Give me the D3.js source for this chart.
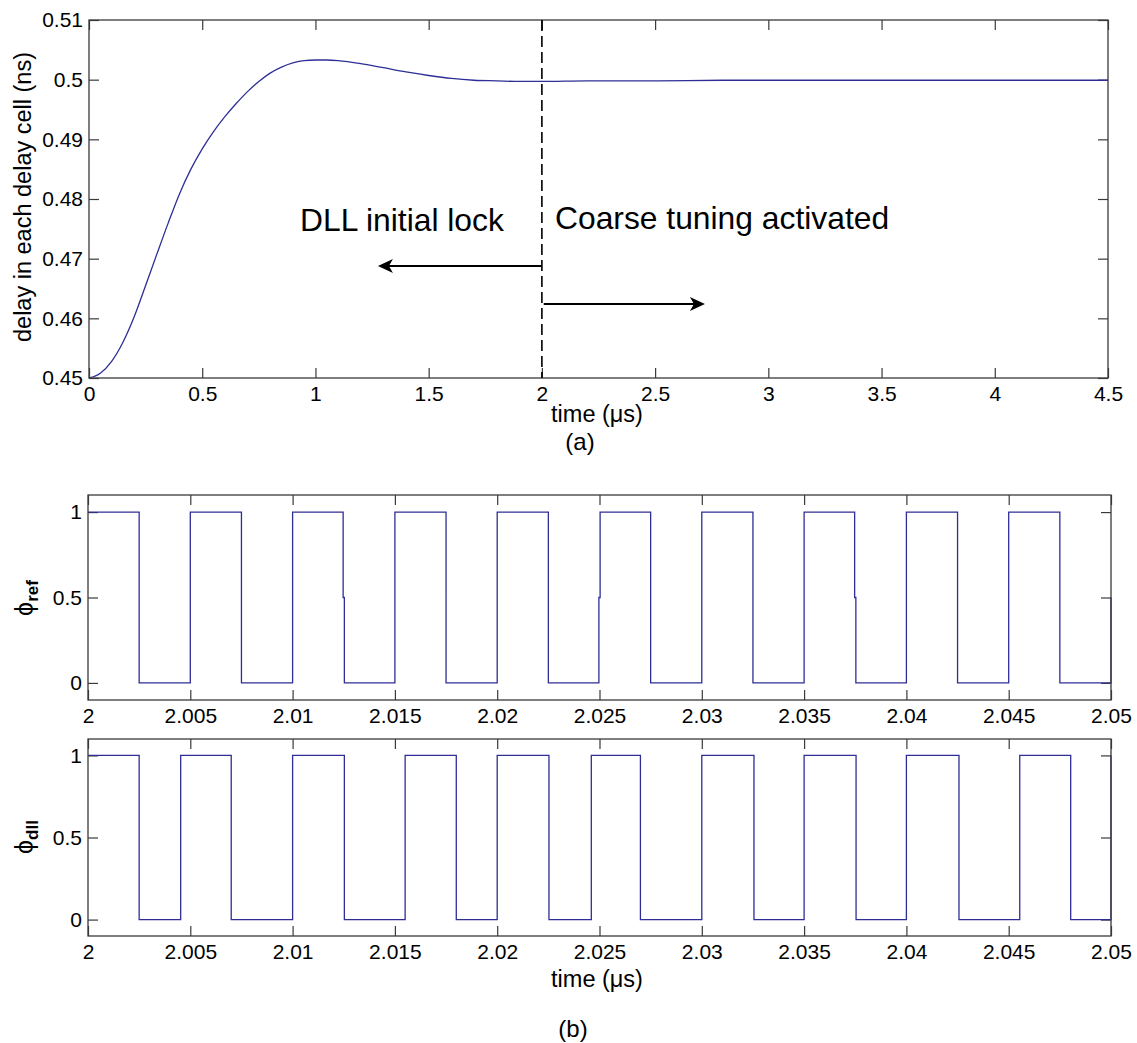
<!DOCTYPE html>
<html>
<head>
<meta charset="utf-8">
<script src="https://cdn.jsdelivr.net/npm/d3@7"></script>
<style>
  html, body { margin: 0; padding: 0; background: #fff; }
  svg { display: block; font-family: "Liberation Sans", Arial, Helvetica, sans-serif; }
</style>
</head>
<body>
<svg id="fig" width="1137" height="1043"></svg>
<script>
// ---- (a) delay of one delay cell during lock-in (time in us, delay in ns)
const lockTime = [0, 0.05, 0.1, 0.15, 0.2, 0.25, 0.3, 0.35, 0.4, 0.45, 0.5, 0.55, 0.6, 0.65,
  0.7, 0.75, 0.8, 0.85, 0.9, 0.95, 1.0, 1.05, 1.1, 1.2, 1.3, 1.4, 1.5, 1.6, 1.7, 1.8, 1.9,
  2.0, 2.2, 2.5, 2.8, 3.0, 3.5, 4.0, 4.5];
const lockDelay = [0.4500, 0.4508, 0.4528, 0.4560, 0.4603, 0.4655, 0.4708, 0.4760, 0.4809,
  0.4850, 0.4884, 0.4913, 0.4938, 0.4960, 0.4980, 0.4997, 0.5011, 0.5021, 0.5028, 0.5032,
  0.5033, 0.5033, 0.5032, 0.5027, 0.5020, 0.5013, 0.5007, 0.5002, 0.4999, 0.4998, 0.4997,
  0.4997, 0.4998, 0.4998, 0.4999, 0.4999, 0.4999, 0.4999, 0.4999];
const coarseStart = 2;              // coarse tuning switched on here
const topXTicks = [0, 0.5, 1, 1.5, 2, 2.5, 3, 3.5, 4, 4.5];
const topXLabels = ["0", "0.5", "1", "1.5", "2", "2.5", "3", "3.5", "4", "4.5"];
const topYTicks = [0.45, 0.46, 0.47, 0.48, 0.49, 0.5, 0.51];
const topYLabels = ["0.45", "0.46", "0.47", "0.48", "0.49", "0.5", "0.51"];

// ---- (b) reference clock and DLL output, sample points (time in us, level)
const refT = [2.0000, 2.0025, 2.0050, 2.0075, 2.0100, 2.01247, 2.01253, 2.0150, 2.0175,
  2.0200, 2.0225, 2.02497, 2.02503, 2.0275, 2.0300, 2.0325, 2.0350, 2.03747, 2.03753,
  2.0400, 2.0425, 2.0450, 2.0475, 2.0500];
const refV = [1, 0, 1, 0, 1, 0.5, 0, 1, 0, 1, 0, 0.5, 1, 0, 1, 0, 1, 0.5, 0, 1, 0, 1, 0, 0.5];
const dllT = [2.0000, 2.0025, 2.00453, 2.0070, 2.0100, 2.01253, 2.0155, 2.0180, 2.0200,
  2.02253, 2.0246, 2.0270, 2.0300, 2.03255, 2.0350, 2.03754, 2.0400, 2.04257, 2.04554,
  2.04803, 2.0500];
const dllV = [1, 0, 1, 0, 1, 0, 1, 0, 1, 0, 1, 0, 1, 0, 1, 0, 1, 0, 1, 0, 1];
const clkXTicks = [2, 2.005, 2.01, 2.015, 2.02, 2.025, 2.03, 2.035, 2.04, 2.045, 2.05];
const clkXLabels = ["2", "2.005", "2.01", "2.015", "2.02", "2.025", "2.03", "2.035", "2.04", "2.045", "2.05"];
const clkYTicks = [0, 0.5, 1];
const clkYLabels = ["0", "0.5", "1"];

const svg = d3.select("#fig");
const LINE = "#2e2e96";
const AXIS = "#3a3a3a";
const TICK_FONT = 21;
const LABEL_FONT = 23.5;

function panel(box, xDomain, yDomain, xTicks, xLabels, yTicks, yLabels) {
  const x = d3.scaleLinear().domain(xDomain).range([box.x0, box.x1]);
  const y = d3.scaleLinear().domain(yDomain).range([box.y1, box.y0]);
  const g = svg.append("g");
  const fmt = (arr, labels) => d => labels[arr.indexOf(d)];

  const axes = [
    [d3.axisBottom(x).tickValues(xTicks).tickFormat(fmt(xTicks, xLabels)).tickPadding(8), `translate(0,${box.y1})`],
    [d3.axisTop(x).tickValues(xTicks).tickFormat(""), `translate(0,${box.y0})`],
    [d3.axisLeft(y).tickValues(yTicks).tickFormat(fmt(yTicks, yLabels)).tickPadding(6), `translate(${box.x0},0)`],
    [d3.axisRight(y).tickValues(yTicks).tickFormat(""), `translate(${box.x1},0)`]
  ];
  axes.forEach(([ax, tr]) => {
    const a = g.append("g").attr("transform", tr)
      .call(ax.tickSizeInner(-10).tickSizeOuter(0));
    a.select(".domain").remove();
    a.selectAll("line").attr("stroke", AXIS).attr("stroke-width", 1.2);
    a.selectAll("text").attr("fill", "#000").attr("font-size", TICK_FONT)
      .attr("font-family", "Liberation Sans, Arial, sans-serif");
  });
  g.append("rect")
    .attr("x", box.x0).attr("y", box.y0)
    .attr("width", box.x1 - box.x0).attr("height", box.y1 - box.y0)
    .attr("fill", "none").attr("stroke", AXIS).attr("stroke-width", 1.3);
  return { x, y, g };
}

// ---------------- panel (a)
const A = panel({ x0: 89, x1: 1108, y0: 20, y1: 378 }, [0, 4.5], [0.45, 0.51],
  topXTicks, topXLabels, topYTicks, topYLabels);

const lockPts = lockTime.map((t, i) => [t, lockDelay[i]]);
A.g.insert("path", "rect")
  .datum(lockPts)
  .attr("fill", "none").attr("stroke", LINE).attr("stroke-width", 1.3)
  .attr("d", d3.line().x(d => A.x(d[0])).y(d => A.y(d[1])).curve(d3.curveMonotoneX));

A.g.append("line")
  .attr("x1", A.x(coarseStart)).attr("x2", A.x(coarseStart))
  .attr("y1", A.y(0.51)).attr("y2", A.y(0.45))
  .attr("stroke", "#000").attr("stroke-width", 1.6)
  .attr("stroke-dasharray", "11,5");

// arrow annotations
function arrow(xFrom, xTo, yv) {
  const y = A.y(yv);
  const x1 = A.x(xFrom), x2 = A.x(xTo);
  const dir = x2 > x1 ? 1 : -1;
  A.g.append("line").attr("x1", x1).attr("x2", x2 - dir * 8).attr("y1", y).attr("y2", y)
    .attr("stroke", "#000").attr("stroke-width", 2.2);
  A.g.append("path")
    .attr("d", "M0,0 L-15,-7 L-11,0 L-15,7 Z")
    .attr("transform", `translate(${x2},${y}) scale(${dir},1)`)
    .attr("fill", "#000");
}
arrow(coarseStart, 1.276, 0.46877);
arrow(2.008, 2.72, 0.4624);

A.g.append("text").attr("x", A.x(0.932)).attr("y", A.y(0.4746))
  .attr("font-size", 31.8).attr("fill", "#000").text("DLL initial lock");
A.g.append("text").attr("x", A.x(2.058)).attr("y", A.y(0.4750))
  .attr("font-size", 31.8).attr("fill", "#000").text("Coarse tuning activated");

svg.append("text")
  .attr("transform", "translate(31,197) rotate(-90)")
  .attr("text-anchor", "middle").attr("font-size", LABEL_FONT).attr("fill", "#000")
  .text("delay in each delay cell (ns)");
svg.append("text").attr("x", 597).attr("y", 422).attr("text-anchor", "middle")
  .attr("font-size", LABEL_FONT).attr("fill", "#000").text("time (\u03BCs)");
svg.append("text").attr("x", 580).attr("y", 450).attr("text-anchor", "middle")
  .attr("font-size", 24).attr("fill", "#000").text("(a)");

// ---------------- panel (b)
function clockPanel(box, ts, vs, sub, labelY) {
  const P = panel(box, [2, 2.05], [-0.1, 1.1], clkXTicks, clkXLabels, clkYTicks, clkYLabels);
  const pts = ts.map((t, i) => [t, vs[i]]);
  P.g.insert("path", "rect")
    .datum(pts)
    .attr("fill", "none").attr("stroke", LINE).attr("stroke-width", 1.3)
    .attr("d", d3.line().x(d => P.x(d[0])).y(d => P.y(d[1])).curve(d3.curveStepAfter));
  const t = svg.append("text")
    .attr("transform", `translate(33,${labelY}) rotate(-90)`)
    .attr("text-anchor", "middle").attr("fill", "#000")
    .attr("font-family", "Liberation Sans, DejaVu Sans, sans-serif");
  t.append("tspan").attr("font-size", 25).text("\u03D5");
  t.append("tspan").attr("font-size", 17).attr("font-weight", "bold").attr("dy", "0.3em").text(sub);
  return P;
}
clockPanel({ x0: 88, x1: 1111, y0: 495, y1: 700 }, refT, refV, "ref", 598);
clockPanel({ x0: 88, x1: 1111, y0: 739, y1: 936 }, dllT, dllV, "dll", 837);

svg.append("text").attr("x", 597).attr("y", 987).attr("text-anchor", "middle")
  .attr("font-size", LABEL_FONT).attr("fill", "#000").text("time (\u03BCs)");
svg.append("text").attr("x", 573).attr("y", 1037).attr("text-anchor", "middle")
  .attr("font-size", 24).attr("fill", "#000").text("(b)");
</script>
</body>
</html>
